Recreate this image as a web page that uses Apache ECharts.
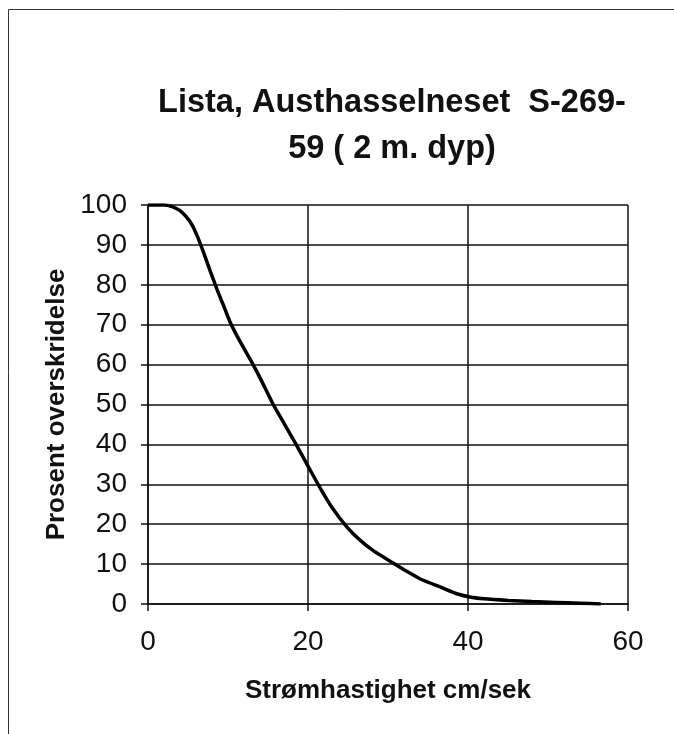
<!DOCTYPE html>
<html>
<head>
<meta charset="utf-8">
<script src="https://cdn.jsdelivr.net/npm/echarts@6/dist/echarts.min.js"></script>
<style>
  html, body { margin: 0; padding: 0; background: #fff; }
  #chart { width: 674px; height: 734px; }
</style>
</head>
<body>
<div id="chart"></div>
<script>
// strømhastighet (cm/sek) og prosent overskridelse, lest av kurven
const speed = [0, 2.0, 3.0, 4.0, 4.8, 5.5, 6.2, 7.0, 7.8, 8.6, 9.4, 10.3, 11.5, 13.0, 14.1, 15.6,
  17.0, 18.4, 20.1, 21.6, 23.0, 24.9, 26.5, 28.2, 30.7, 32.5, 34.1, 36.6, 38.7, 40.4,
  42.0, 45.0, 48.0, 51.0, 54.0, 56.6]
const exceed = [100, 100, 99.6, 98.6, 97.0, 95.0, 92.0, 87.8, 83.3, 79.0, 75.0, 70.5, 65.8, 60.5, 56.3, 50.2,
  45.3, 40.4, 34.2, 28.8, 24.2, 19.2, 16.0, 13.3, 10.2, 8.0, 6.2, 4.2, 2.5, 1.7,
  1.3, 0.9, 0.6, 0.4, 0.2, 0]
const xTicks = [0, 20, 40, 60]
const yTicks = [0, 10, 20, 30, 40, 50, 60, 70, 80, 90, 100]

const FONT = 'Liberation Sans'
let dom = echarts.init(document.getElementById('chart'))
let option = {
  backgroundColor: '#fff',
  animation: false,
  title: {
    text: 'Lista, Austhasselneset  S-269-\n59 ( 2 m. dyp)',
    left: 387,
    top: 75,
    textAlign: 'center',
    textStyle: {
      fontFamily: FONT,
      fontSize: 32.5,
      fontWeight: 'bold',
      color: '#111',
      lineHeight: 46
    }
  },
  graphic: [
    {
      type: 'rect',
      shape: { x: 8.5, y: 9.5, width: 680, height: 740 },
      style: { fill: 'none', stroke: '#333', lineWidth: 1 }
    }
  ],
  grid: { left: 148, right: 46, top: 205, bottom: 130 },
  xAxis: {
    type: 'value',
    min: 0,
    max: 60,
    interval: 20,
    name: 'Strømhastighet cm/sek',
    nameLocation: 'middle',
    nameGap: 74,
    nameTextStyle: { fontFamily: FONT, fontSize: 26, fontWeight: 'bold', color: '#111' },
    axisLine: { lineStyle: { color: '#111', width: 1.5 } },
    axisTick: { show: true, length: 7, lineStyle: { color: '#111', width: 1.5 } },
    axisLabel: {
      fontFamily: FONT, fontSize: 28, color: '#111', margin: 24,
      formatter: v => xTicks.includes(v) ? String(v) : ''
    },
    splitLine: { show: true, lineStyle: { color: '#111', width: 1.5 } }
  },
  yAxis: {
    type: 'value',
    min: 0,
    max: 100,
    interval: 10,
    name: 'Prosent overskridelse',
    nameLocation: 'middle',
    nameGap: 77,
    nameTextStyle: { fontFamily: FONT, fontSize: 26, fontWeight: 'bold', color: '#111' },
    axisLine: { show: true, lineStyle: { color: '#111', width: 1.5 } },
    axisTick: { show: true, length: 7, lineStyle: { color: '#111', width: 1.5 } },
    axisLabel: {
      fontFamily: FONT, fontSize: 28, color: '#111', margin: 21,
      formatter: v => yTicks.includes(v) ? String(v) : ''
    },
    splitLine: { show: true, lineStyle: { color: '#111', width: 1.5 } }
  },
  series: [
    {
      type: 'line',
      data: speed.map((s, i) => [s, exceed[i]]),
      smooth: 0.2,
      showSymbol: false,
      lineStyle: { color: '#000', width: 3.5 }
    }
  ]
}
dom.setOption(option)
</script>
</body>
</html>
